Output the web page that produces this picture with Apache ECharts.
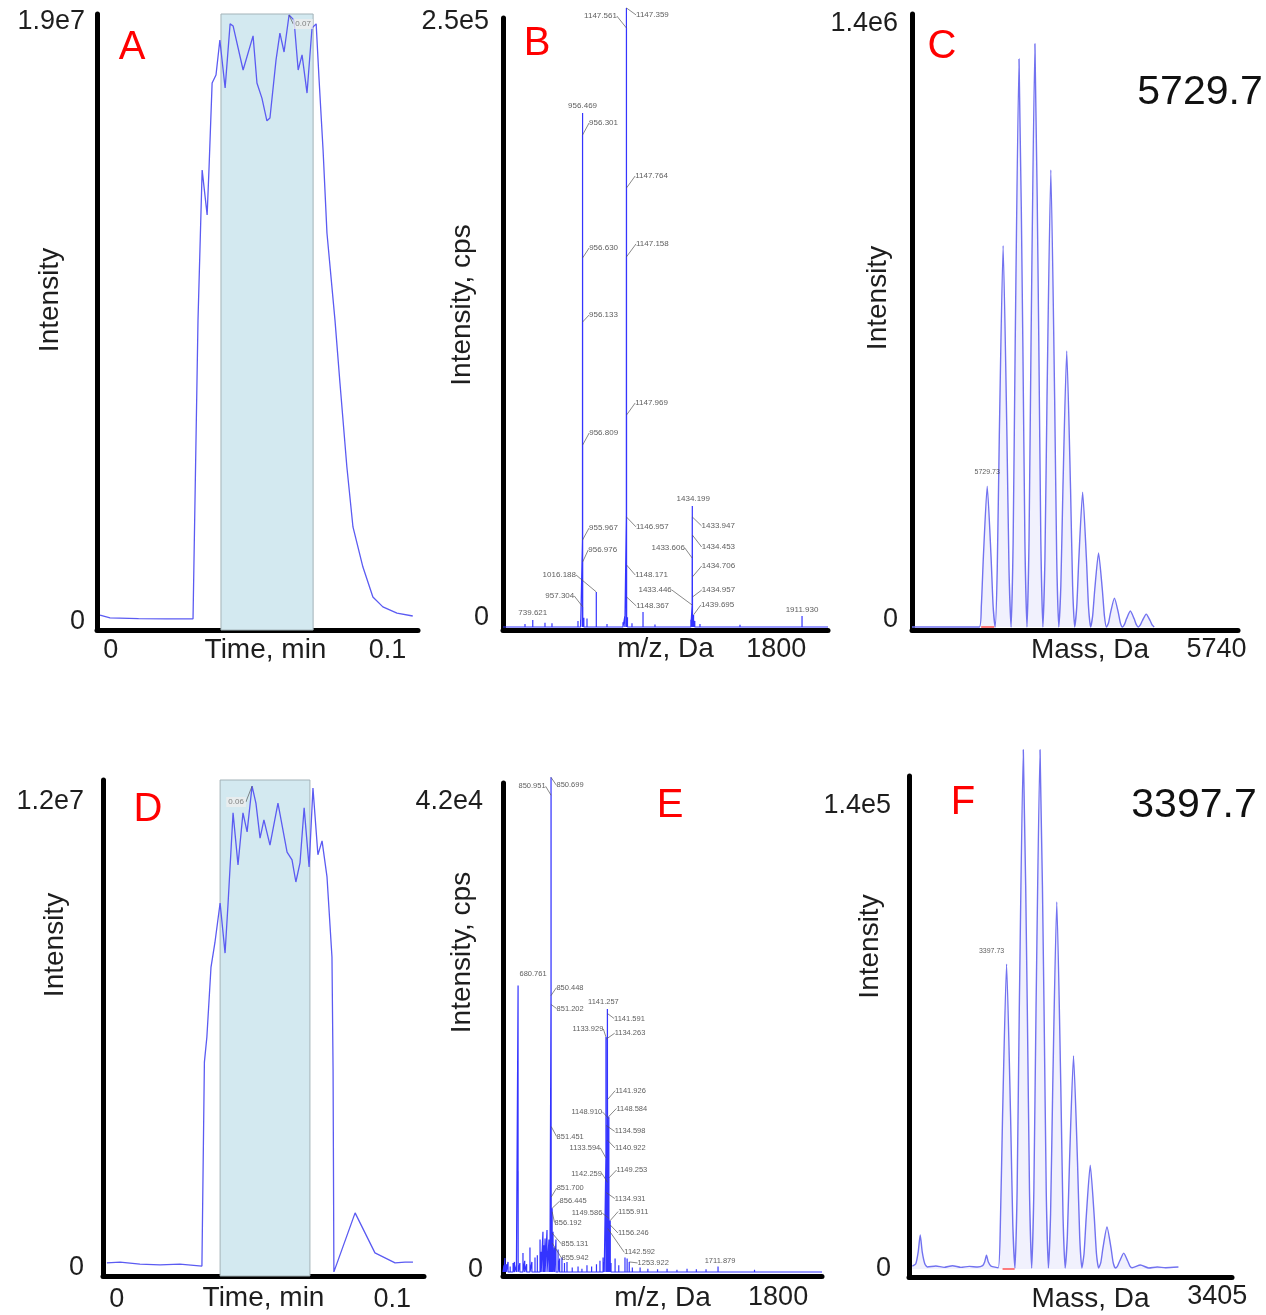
<!DOCTYPE html>
<html><head><meta charset="utf-8">
<script src="https://cdn.jsdelivr.net/npm/echarts@6/dist/echarts.min.js"></script>
<style>html,body{margin:0;padding:0;background:#fff}#chart{width:1266px;height:1315px}</style>
</head><body><div id="chart"></div>
<script>
// ================= DATA =================
// Panel A : extracted ion chromatogram  [time (min), intensity]
const chromA = [
 [-0.0039,0.22e6],[-0.0003,0.13e6],[0.0100,0.11e6],[0.0200,0.10e6],[0.0297,0.10e6],
 [0.0315,9.56e6],[0.0330,14.31e6],[0.0348,12.89e6],[0.0355,14.41e6],[0.0366,17.07e6],
 [0.0380,17.32e6],[0.0394,18.43e6],[0.0413,16.91e6],[0.0431,18.94e6],[0.0442,18.87e6],
 [0.0478,17.48e6],[0.0514,18.56e6],[0.0528,17.07e6],[0.0546,16.59e6],[0.0564,15.87e6],
 [0.0575,15.96e6],[0.0597,17.80e6],[0.0611,18.65e6],[0.0626,18.05e6],[0.0644,19.22e6],
 [0.0662,19.06e6],[0.0677,17.48e6],[0.0691,17.96e6],[0.0709,16.75e6],[0.0727,18.81e6],
 [0.0742,18.94e6],[0.0752,17.26e6],[0.0767,14.94e6],[0.0781,12.32e6],[0.0810,9.56e6],
 [0.0828,7.57e6],[0.0853,4.91e6],[0.0875,3.01e6],[0.0911,1.74e6],[0.0947,0.79e6],
 [0.0983,0.48e6],[0.1034,0.28e6],[0.1091,0.19e6]
];
const selectionA = [0.0398, 0.0731];
const apexA = [[0.0644, 19.22e6]];
const apexTextA = ['0.07'];

// Panel D : chromatogram
const chromD = [
 [-0.0036,0.13e6],[0.0012,0.15e6],[0.0084,0.10e6],[0.0157,0.08e6],[0.0229,0.10e6],[0.0309,0.05e6],
 [0.0318,5.30e6],[0.0327,5.95e6],[0.0342,7.75e6],[0.0356,8.37e6],[0.0375,9.40e6],[0.0393,8.11e6],
 [0.0404,9.40e6],[0.0422,11.72e6],[0.0440,10.38e6],[0.0458,11.72e6],[0.0473,11.23e6],[0.0491,12.41e6],
 [0.0505,11.97e6],[0.0520,11.07e6],[0.0534,11.54e6],[0.0556,10.89e6],[0.0585,11.97e6],[0.0618,10.71e6],
 [0.0636,10.51e6],[0.0650,9.94e6],[0.0665,10.43e6],[0.0680,11.85e6],[0.0698,10.33e6],[0.0712,12.36e6],
 [0.0730,10.64e6],[0.0745,11.00e6],[0.0763,10.07e6],[0.0781,8.01e6],[0.0785,5.10e6],[0.0788,-0.10e6],
 [0.0865,1.42e6],[0.0937,0.39e6],[0.1010,0.13e6],[0.1046,0.15e6],[0.1075,0.15e6]
];
const selectionD = [0.0375, 0.0701];
const apexD = [[0.0491, 12.41e6]];
const apexTextD = ['0.06'];

// Panel B : mass spectrum, annotated peaks [m/z, intensity cps]
const peaksB = [
 [1147.359,255800],[1147.561,247500],[956.469,212400],[956.301,203300],[1147.764,181400],
 [956.630,152500],[1147.158,152900],[956.133,126000],[1147.969,87600],[956.809,75200],
 [1434.199,50000],[955.967,35900],[1146.957,45500],[1433.947,45500],[956.976,26900],
 [1433.606,28500],[1434.453,38000],[1016.188,14500],[1148.171,25600],[1434.706,20700],
 [1433.446,9100],[1434.957,12400],[957.304,8300],[1148.367,12400],[1439.695,5000],
 [739.621,2900],[1911.930,4500]
];
const minorB = [
 [705.8,1200],[792.8,1800],[823.3,1500],[936.5,2500],[948.0,3000],[962.0,3800],[975.7,3500],
 [1062.8,1200],[1132.4,2000],[1140.5,4500],[1152.0,4000],[1171.6,1500],[1219.6,6200],
 [1271.7,1000],[1428.0,3000],[1445.0,2500],[1467.6,1200],[1560.0,600],[1641.8,900],
 [1750.0,500],[1990.0,500]
];

// Panel E : mass spectrum
const peaksE = [
 [850.699,44200],[850.951,42600],[680.761,25600],[850.448,24700],[851.202,23900],
 [1141.257,23500],[1141.591,23100],[1133.929,21000],[1134.263,20800],[1141.926,15400],
 [1148.910,13700],[1148.584,13900],[1134.598,13100],[851.451,13000],[1133.594,10200],
 [1140.922,11800],[1142.259,8000],[1149.253,8400],[851.700,6700],[1134.931,7100],
 [856.445,5700],[1149.586,4800],[1155.911,4600],[856.192,5400],[1156.246,4200],
 [855.131,3500],[1142.592,3900],[855.942,2600],[1253.922,900],[1711.879,500]
];
const minorE = [
 [608,600],[613,1250],[620,700],[629,900],[640,500],[655,800],[662,900],[672,600],[681.1,9000],
 [690,800],[706,1700],[715,1000],[725,700],[742,2200],[752,900],[768,1300],[780,1500],[794,2900],
 [800,1800],[809,3600],[815,2400],[820,3000],[830,3750],[840,2900],[845,2500],[861,3600],[868,2200],
 [876,2900],[887,2000],[895,1200],[907,1300],[920,800],[933,900],[960,400],[990,500],[1010,300],
 [1036,600],[1060,500],[1085,700],[1103,1000],[1119,1300],[1125,900],[1160,800],[1181,1200],
 [1200,600],[1232,1300],[1243,1200],[1270,400],[1310,400],[1350,300],[1400,250],[1449,300],
 [1500,200],[1552,300],[1600,250],[1650,250],[1800,150],[1900,200],[1950,150],[2100,150]
];

// Panel C : deconvoluted isotope profile [mass Da, intensity]
const profileC = [
 [5725.0,0],[5729.23,0],
 [5729.36,49e3],[5729.49,164e3],[5729.73,327e3],[5729.97,164e3],[5730.10,49e3],[5730.23,0],
 [5730.36,133e3],[5730.49,443e3],[5730.73,885e3],[5730.97,443e3],[5731.10,133e3],[5731.23,0],
 [5731.36,198e3],[5731.49,660e3],[5731.73,1319e3],[5731.97,660e3],[5732.10,198e3],[5732.23,0],
 [5732.36,203e3],[5732.49,677e3],[5732.73,1354e3],[5732.97,677e3],[5733.10,203e3],[5733.23,0],
 [5733.36,159e3],[5733.49,531e3],[5733.73,1061e3],[5733.97,531e3],[5734.10,159e3],[5734.23,0],
 [5734.36,96e3],[5734.49,321e3],[5734.73,641e3],[5734.97,321e3],[5735.10,96e3],[5735.23,0],
 [5735.36,47e3],[5735.49,157e3],[5735.73,313e3],[5735.97,157e3],[5736.10,47e3],[5736.23,0],
 [5736.36,26e3],[5736.49,86e3],[5736.73,172e3],[5736.97,86e3],[5737.10,26e3],[5737.23,0],
 [5737.36,10e3],[5737.49,34e3],[5737.73,67e3],[5737.97,34e3],[5738.10,10e3],[5738.23,0],
 [5738.36,6e3],[5738.49,19e3],[5738.73,37e3],[5738.97,19e3],[5739.10,6e3],[5739.23,0],
 [5739.36,5e3],[5739.49,15e3],[5739.73,30e3],[5739.97,15e3],[5740.10,5e3],[5740.23,0]
];
const integC = [[5729.35,0],[5730.17,0]];
const apexC = [[5729.73,327e3]];
const apexTextC = ['5729.73'];

// Panel F : deconvoluted isotope profile
const profileF = [
 [3392.1,900],[3392.3,1500],[3392.45,5200],[3392.57,10300],[3392.69,5200],[3392.85,1500],[3393.0,600],
 [3393.5,900],[3394.0,500],[3394.5,1000],[3395.0,500],[3395.5,800],[3396.0,600],
 [3396.3,1000],[3396.42,2100],[3396.53,4200],[3396.64,2100],[3396.8,900],[3397.23,400],
 [3397.36,13800],[3397.49,46100],[3397.73,92200],[3397.97,46100],[3398.10,13800],[3398.23,300],
 [3398.36,23600],[3398.49,78500],[3398.73,157000],[3398.97,78500],[3399.10,23600],[3399.23,300],
 [3399.36,23600],[3399.49,78500],[3399.73,157000],[3399.97,78500],[3400.10,23600],[3400.23,300],
 [3400.36,16700],[3400.49,55500],[3400.73,111000],[3400.97,55500],[3401.10,16700],[3401.23,300],
 [3401.36,9700],[3401.49,32200],[3401.73,64400],[3401.97,32200],[3402.10,9700],[3402.23,300],
 [3402.36,4700],[3402.49,15700],[3402.73,31400],[3402.97,15700],[3403.10,4700],[3403.23,300],
 [3403.36,1900],[3403.49,6400],[3403.73,12700],[3403.97,6400],[3404.10,1900],[3404.23,300],
 [3404.36,900],[3404.49,2400],[3404.73,4800],[3404.97,2400],[3405.10,900],[3405.23,400],
 [3405.73,1200],[3406.23,300],[3406.73,600],[3407.23,400],[3408.0,600]
];
const integF = [[3397.49,0],[3398.21,0]];
const apexF = [[3397.73,92200]];
const apexTextF = ['3397.73'];

// Tick labels
const xTickA = [0, 0.1],  xTickTextA = ['0', '0.1'];
const yTickA = [0, 1.9e7], yTickTextA = ['0', '1.9e7'];
const xTickB = [1800],    xTickTextB = ['1800'];
const yTickB = [0, 2.5e5], yTickTextB = ['0', '2.5e5'];
const xTickC = [5740],    xTickTextC = ['5740'];
const yTickC = [0, 1.4e6], yTickTextC = ['0', '1.4e6'];
const xTickD = [0, 0.1],  xTickTextD = ['0', '0.1'];
const yTickD = [0, 1.2e7], yTickTextD = ['0', '1.2e7'];
const xTickE = [1800],    xTickTextE = ['1800'];
const yTickE = [0, 4.2e4], yTickTextE = ['0', '4.2e4'];
const xTickF = [3405],    xTickTextF = ['3405'];
const yTickF = [0, 1.4e5], yTickTextF = ['0', '1.4e5'];

const xNames = ['Time, min', 'm/z, Da', 'Mass, Da', 'Time, min', 'm/z, Da', 'Mass, Da'];
const yNames = ['Intensity', 'Intensity, cps', 'Intensity', 'Intensity', 'Intensity, cps', 'Intensity'];
const panelLetters = ['A', 'B', 'C', 'D', 'E', 'F'];
const massResults = ['5729.7', '3397.7'];

// ================= LAYOUT / STYLE =================
const FONT = "'Liberation Sans', Arial, sans-serif";
const TXT = '#1e1e1e';
const TICK_FS = 27, NAME_FS = 28;
const LAYOUT = [
 {grid:{left:97,top:14,width:321,height:616}, x:{min:-0.005,max:0.111,margin:7,nameGap:6,nameShift:8,shifts:[0,0]}, y:{min:-2.53e5,max:1.9253e7,margin:12,nameGap:33,nameUp:22,shifts:[0,0]}},
 {grid:{left:503,top:18,width:325,height:612}, x:{min:610,max:2025,margin:6,nameGap:5,nameShift:0,shifts:[0]}, y:{min:-1240,max:251640,margin:14,nameGap:27,nameUp:19,shifts:[-9,0]}},
 {grid:{left:912,top:14,width:326,height:616}, x:{min:5725,max:5745.5,margin:6,nameGap:6,nameShift:15,shifts:[66]}, y:{min:-6965,max:1423200,margin:14,nameGap:20,nameUp:24,shifts:[-7,0]}},
 {grid:{left:103,top:780,width:321,height:496}, x:{min:-0.005,max:0.1115,margin:10,nameGap:8,nameShift:0,shifts:[0,0]}, y:{min:-2.06e5,max:1.25665e7,margin:19,nameGap:34,nameUp:83,shifts:[0,0]}},
 {grid:{left:503,top:783,width:319,height:493}, x:{min:603,max:2248,margin:8,nameGap:8,nameShift:0,shifts:[43]}, y:{min:-357,max:43697,margin:20,nameGap:27,nameUp:77,shifts:[-2,0]}},
 {grid:{left:909,top:776,width:323,height:501}, x:{min:3391.9,max:3411.2,margin:6,nameGap:8,nameShift:20,shifts:[89]}, y:{min:-2419,max:149083,margin:18,nameGap:25,nameUp:80,shifts:[0,0]}}
];
const offsetsB = [[26,7],[-26,-12],[0,-7],[21,-12],[25,-12],[21,-10],[26,-13],[21,-7],[25,-12],[21,-12],[1,-7],[21,-12],[26,10],[26,9],[20,-12],[-24,-10],[26,12],[-37,-17],[25,10],[26,-11],[-37,-15],[26,-7],[-23,-11],[26,9],[24,-10],[0,-7],[0,-6]];
const noLineB = [2, 10, 25, 26];
const offsetsE = [[19,8],[-19,-9],[15,-12],[19,-8],[19,4],[-4,-7],[22,5],[-18,-8],[24,-6],[23,-9],[-22,-7],[23,-8],[24,6],[19,10],[-21,-10],[23,8],[-21,-9],[23,-8],[19,-9],[24,6],[21,-7],[-22,-5],[23,-9],[16,11],[23,8],[23,11],[32,24],[23,15],[24,1],[2,-5]];
const noLineE = [2, 5, 29];
const letterPos = [[132,48],[537,44],[942,47],[148,810],[670,806],[963,803]];
const resultPos = [[1200,93],[1194,806]];

// ================= BUILD =================
function makeRich(shifts, axis) {
  const rich = {};
  shifts.forEach((s, i) => {
    let pad;
    if (axis === 'x') pad = s >= 0 ? [0, 0, 0, 2 * s] : [0, -2 * s, 0, 0];
    else pad = s <= 0 ? [0, 0, -2 * s, 0] : [2 * s, 0, 0, 0];
    rich['t' + i] = {padding: pad, fontSize: TICK_FS, fontFamily: FONT, color: TXT};
  });
  return rich;
}
function tickFmt(ticks, texts) {
  return function (v) {
    let idx = 0, best = Infinity;
    ticks.forEach((t, i) => { const d = Math.abs(t - v); if (d < best) { best = d; idx = i; } });
    return '{t' + idx + '|' + texts[idx] + '}';
  };
}
const xTicks = [[xTickA,xTickTextA],[xTickB,xTickTextB],[xTickC,xTickTextC],[xTickD,xTickTextD],[xTickE,xTickTextE],[xTickF,xTickTextF]];
const yTicks = [[yTickA,yTickTextA],[yTickB,yTickTextB],[yTickC,yTickTextC],[yTickD,yTickTextD],[yTickE,yTickTextE],[yTickF,yTickTextF]];

const grids = [], xAxes = [], yAxes = [];
LAYOUT.forEach((L, i) => {
  grids.push(Object.assign({containLabel: false, outerBoundsMode: 'none'}, L.grid));
  const axLine = {show: true, onZero: false, lineStyle: {color: '#000', width: 5}};
  xAxes.push({
    gridIndex: i, type: 'value', min: L.x.min, max: L.x.max,
    axisLine: axLine, axisTick: {show: false}, splitLine: {show: false},
    axisLabel: {show: true, customValues: xTicks[i][0], margin: L.x.margin,
      formatter: tickFmt(xTicks[i][0], xTicks[i][1]), rich: makeRich(L.x.shifts, 'x'),
      fontSize: TICK_FS, fontFamily: FONT, color: TXT},
    name: xNames[i], nameLocation: 'middle', nameGap: L.x.nameGap, nameMoveOverlap: false,
    nameTextStyle: {fontSize: NAME_FS, fontFamily: FONT, color: TXT,
      padding: L.x.nameShift >= 0 ? [0, 0, 0, 2 * L.x.nameShift] : [0, -2 * L.x.nameShift, 0, 0]}
  });
  yAxes.push({
    gridIndex: i, type: 'value', min: L.y.min, max: L.y.max,
    axisLine: axLine, axisTick: {show: false}, splitLine: {show: false},
    axisLabel: {show: true, customValues: yTicks[i][0], margin: L.y.margin,
      formatter: tickFmt(yTicks[i][0], yTicks[i][1]), rich: makeRich(L.y.shifts, 'y'),
      fontSize: TICK_FS, fontFamily: FONT, color: TXT},
    name: yNames[i], nameLocation: 'middle', nameGap: L.y.nameGap, nameMoveOverlap: false,
    nameTextStyle: {fontSize: NAME_FS, fontFamily: FONT, color: TXT, padding: [0, 0, 0, 2 * L.y.nameUp]}
  });
});

function sticks(peaks, lo, hi) {
  const s = peaks.slice().sort((a, b) => a[0] - b[0]);
  const out = [[lo, 0]];
  s.forEach(p => { out.push([p[0], 0], [p[0], p[1]], [p[0], 0]); });
  out.push([hi, 0]);
  return out;
}
function labelSeries(i, pts, texts, offsets, noLine, style) {
  return {
    type: 'scatter', xAxisIndex: i, yAxisIndex: i, silent: true, clip: false, z: 6,
    symbolSize: 0.1, itemStyle: {color: 'rgba(0,0,0,0)'},
    data: pts.map((p, k) => ({value: [p[0], p[1]], name: texts[k],
      labelLine: {show: !(noLine || []).includes(k)}})),
    label: Object.assign({show: true, position: 'inside', formatter: p => p.name,
      fontSize: 8, fontFamily: FONT, color: '#333'}, style || {}),
    labelLayout: params => ({dx: offsets[params.dataIndex][0], dy: offsets[params.dataIndex][1]}),
    labelLine: {show: true, smooth: false, lineStyle: {color: '#555', width: 0.7}}
  };
}
const TRACE = '#5b5bf2', STICK = '#3434ff', PROF = '#7272f0';
const selStyle = {color: '#d3e9f0', borderColor: '#a3b3b8', borderWidth: 1};

const series = [
  // A
  {type: 'line', xAxisIndex: 0, yAxisIndex: 0, data: chromA, showSymbol: false, silent: true, z: 3,
   lineStyle: {color: TRACE, width: 1.3},
   markArea: {silent: true, itemStyle: selStyle, data: [[{xAxis: selectionA[0]}, {xAxis: selectionA[1]}]]}},
  labelSeries(0, apexA, apexTextA, [[14, 9]], [], {color: '#666', backgroundColor: '#eeeeee', padding: [1, 2]}),
  // B
  {type: 'line', xAxisIndex: 1, yAxisIndex: 1, data: sticks(peaksB.concat(minorB), LAYOUT[1].x.min, LAYOUT[1].x.max),
   showSymbol: false, silent: true, clip: false, z: 3, lineStyle: {color: STICK, width: 1.2}},
  labelSeries(1, peaksB, peaksB.map(p => p[0].toFixed(3)), offsetsB, noLineB),
  // C
  {type: 'line', xAxisIndex: 2, yAxisIndex: 2, data: profileC, showSymbol: false, silent: true, z: 3, smooth: 0.2,
   lineStyle: {color: PROF, width: 1.4}, areaStyle: {color: 'rgba(130,130,235,0.16)'}},
  {type: 'line', xAxisIndex: 2, yAxisIndex: 2, data: integC, showSymbol: false, silent: true, z: 4,
   lineStyle: {color: '#ff5050', width: 1.5}},
  labelSeries(2, apexC, apexTextC, [[0, -14]], [0], {fontSize: 7}),
  // D
  {type: 'line', xAxisIndex: 3, yAxisIndex: 3, data: chromD, showSymbol: false, silent: true, z: 3,
   lineStyle: {color: TRACE, width: 1.3},
   markArea: {silent: true, itemStyle: selStyle, data: [[{xAxis: selectionD[0]}, {xAxis: selectionD[1]}]]}},
  labelSeries(3, apexD, apexTextD, [[-16, 16]], [], {color: '#666', backgroundColor: '#eeeeee', padding: [1, 2]}),
  // E
  {type: 'line', xAxisIndex: 4, yAxisIndex: 4, data: sticks(peaksE.concat(minorE), LAYOUT[4].x.min, LAYOUT[4].x.max),
   showSymbol: false, silent: true, clip: false, z: 3, lineStyle: {color: STICK, width: 1.2}},
  labelSeries(4, peaksE, peaksE.map(p => p[0].toFixed(3)), offsetsE, noLineE, {fontSize: 7.5}),
  // F
  {type: 'line', xAxisIndex: 5, yAxisIndex: 5, data: profileF, showSymbol: false, silent: true, clip: false, z: 3, smooth: 0.2,
   lineStyle: {color: PROF, width: 1.4}, areaStyle: {color: 'rgba(130,130,235,0.16)'}},
  {type: 'line', xAxisIndex: 5, yAxisIndex: 5, data: integF, showSymbol: false, silent: true, z: 4,
   lineStyle: {color: '#ff5050', width: 1.5}},
  labelSeries(5, apexF, apexTextF, [[-15, -13]], [0], {fontSize: 7})
];

const graphic = [];
panelLetters.forEach((t, i) => graphic.push({type: 'text', x: letterPos[i][0], y: letterPos[i][1], silent: true,
  style: {text: t, fill: '#ff0000', fontSize: 40, fontFamily: FONT, align: 'center', verticalAlign: 'middle'}}));
massResults.forEach((t, i) => graphic.push({type: 'text', x: resultPos[i][0], y: resultPos[i][1], silent: true,
  style: {text: t, fill: '#111', fontSize: 41, fontFamily: FONT, align: 'center', verticalAlign: 'middle'}}));

const chart = echarts.init(document.getElementById('chart'), null, {renderer: 'canvas'});
chart.setOption({
  animation: false, backgroundColor: '#fff',
  grid: grids, xAxis: xAxes, yAxis: yAxes, series: series, graphic: graphic
});
</script></body></html>
